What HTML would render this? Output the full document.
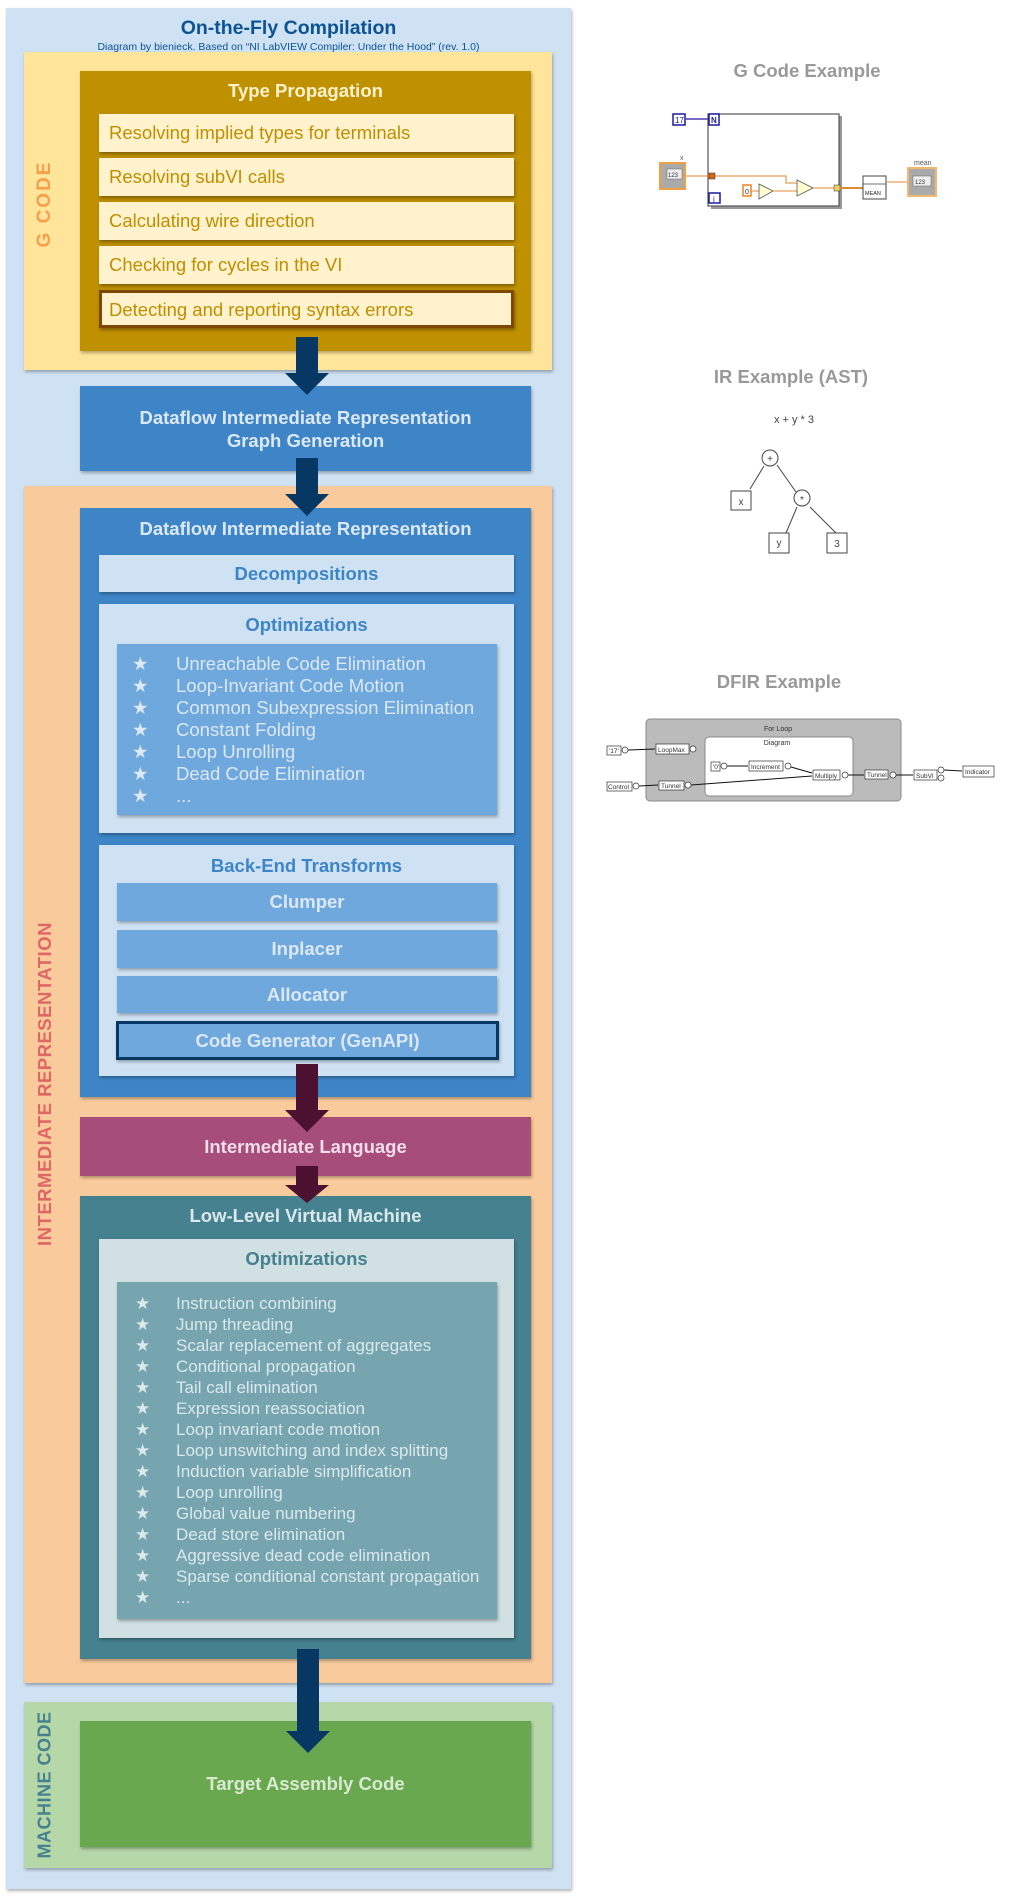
<!DOCTYPE html>
<html><head><meta charset="utf-8"><style>
*{margin:0;padding:0;box-sizing:border-box}
body{width:1023px;height:1897px;background:#fff;position:relative;font-family:"Liberation Sans",Arial,sans-serif;overflow:hidden}
.a{position:absolute}
.sh{box-shadow:1px 2px 3px rgba(0,0,0,.3)}
.c{display:flex;align-items:center;justify-content:center;text-align:center}
.vt{position:absolute;transform:translate(-50%,-50%) rotate(-90deg);white-space:nowrap;font-weight:bold;font-size:18px;letter-spacing:0.5px}
.item{position:absolute;left:99px;width:415px;height:38px;background:#fff2cc;color:#bf8f00;font-size:18.5px;line-height:38px;padding-left:10px;box-shadow:1px 2px 3px rgba(0,0,0,.35)}
.li{position:absolute;white-space:nowrap}
.li span{position:absolute}
.bx{left:80px;width:451px}
.in{left:99px;width:415px}
.ls{left:117px;width:380px}
.t{font-weight:bold;font-size:18.5px}
svg text{font-family:"Liberation Sans",Arial,sans-serif}
</style></head><body>

<div class="a sh" style="left:6px;top:8px;width:565px;height:1881px;background:#cfe2f3"></div>
<div class="a" style="left:6px;top:17px;width:565px;text-align:center;font-weight:bold;font-size:19.5px;color:#0b5394">On-the-Fly Compilation</div>
<div class="a" style="left:6px;top:41px;width:565px;text-align:center;font-size:10.5px;color:#0b5394">Diagram by bienieck. Based on “NI LabVIEW Compiler: Under the Hood” (rev. 1.0)</div>

<div class="a sh" style="left:24px;top:52px;width:528px;height:318px;background:#ffe599"></div>
<div class="vt" style="left:45px;top:204px;color:#f6a04d;font-size:19px;letter-spacing:2px">G CODE</div>
<div class="a sh bx" style="top:71px;height:280px;background:#bf9000"></div>
<div class="a bx t" style="top:80px;text-align:center;color:#fff2cc">Type Propagation</div>
<div class="item" style="top:114px">Resolving implied types for terminals</div>
<div class="item" style="top:158px">Resolving subVI calls</div>
<div class="item" style="top:202px">Calculating wire direction</div>
<div class="item" style="top:246px">Checking for cycles in the VI</div>
<div class="item" style="top:290px;border:3px solid #7f4700;line-height:33px;padding-left:7px">Detecting and reporting syntax errors</div>

<div class="a sh c bx t" style="top:386px;height:85px;background:#3d85c6;color:#dde8f5;line-height:23px">Dataflow Intermediate Representation<br>Graph Generation</div>

<div class="a sh" style="left:24px;top:486px;width:528px;height:1197px;background:#f9cb9c"></div>
<div class="vt" style="left:45px;top:1084px;color:#e06666;font-size:18.5px">INTERMEDIATE REPRESENTATION</div>

<div class="a sh bx" style="top:508px;height:589px;background:#3d85c6"></div>
<div class="a bx t" style="top:518px;text-align:center;color:#dde8f5">Dataflow Intermediate Representation</div>
<div class="a sh c in t" style="top:555px;height:37px;background:#cfe2f3;color:#3d85c6">Decompositions</div>
<div class="a sh in" style="top:604px;height:229px;background:#cfe2f3"></div>
<div class="a in t" style="top:614px;text-align:center;color:#3d85c6">Optimizations</div>
<div class="a sh ls" style="top:644px;height:171px;background:#6fa8dc"></div>
<div class="a" style="left:0;top:0;color:#dce8f5;font-size:18.5px">
<div class="li" style="top:653px"><span style="left:132px">★</span><span style="left:176px">Unreachable Code Elimination</span></div>
<div class="li" style="top:675px"><span style="left:132px">★</span><span style="left:176px">Loop-Invariant Code Motion</span></div>
<div class="li" style="top:697px"><span style="left:132px">★</span><span style="left:176px">Common Subexpression Elimination</span></div>
<div class="li" style="top:719px"><span style="left:132px">★</span><span style="left:176px">Constant Folding</span></div>
<div class="li" style="top:741px"><span style="left:132px">★</span><span style="left:176px">Loop Unrolling</span></div>
<div class="li" style="top:763px"><span style="left:132px">★</span><span style="left:176px">Dead Code Elimination</span></div>
<div class="li" style="top:785px"><span style="left:132px">★</span><span style="left:176px">...</span></div>
</div>

<div class="a sh in" style="top:845px;height:231px;background:#cfe2f3"></div>
<div class="a in t" style="top:855px;text-align:center;color:#3d85c6">Back-End Transforms</div>
<div class="a sh c ls t" style="top:883px;height:38px;background:#6fa8dc;color:#dce8f5">Clumper</div>
<div class="a sh c ls t" style="top:930px;height:38px;background:#6fa8dc;color:#dce8f5">Inplacer</div>
<div class="a sh c ls t" style="top:976px;height:37px;background:#6fa8dc;color:#dce8f5">Allocator</div>
<div class="a sh c t" style="left:116px;top:1021px;width:383px;height:39px;background:#6fa8dc;border:3px solid #073763;color:#dce8f5">Code Generator (GenAPI)</div>

<div class="a sh c bx t" style="top:1117px;height:59px;background:#a64d79;color:#f2dde8">Intermediate Language</div>

<div class="a sh bx" style="top:1196px;height:463px;background:#45818e"></div>
<div class="a bx t" style="top:1205px;text-align:center;color:#dbe9ec">Low-Level Virtual Machine</div>
<div class="a sh in" style="top:1239px;height:399px;background:#d0e0e3"></div>
<div class="a in t" style="top:1248px;text-align:center;color:#45818e">Optimizations</div>
<div class="a sh ls" style="top:1282px;height:337px;background:#76a5af"></div>
<div class="a" style="left:0;top:0;color:#dbe9ec;font-size:17px">
<div class="li" style="top:1294px"><span style="left:135px">★</span><span style="left:176px">Instruction combining</span></div>
<div class="li" style="top:1315px"><span style="left:135px">★</span><span style="left:176px">Jump threading</span></div>
<div class="li" style="top:1336px"><span style="left:135px">★</span><span style="left:176px">Scalar replacement of aggregates</span></div>
<div class="li" style="top:1357px"><span style="left:135px">★</span><span style="left:176px">Conditional propagation</span></div>
<div class="li" style="top:1378px"><span style="left:135px">★</span><span style="left:176px">Tail call elimination</span></div>
<div class="li" style="top:1399px"><span style="left:135px">★</span><span style="left:176px">Expression reassociation</span></div>
<div class="li" style="top:1420px"><span style="left:135px">★</span><span style="left:176px">Loop invariant code motion</span></div>
<div class="li" style="top:1441px"><span style="left:135px">★</span><span style="left:176px">Loop unswitching and index splitting</span></div>
<div class="li" style="top:1462px"><span style="left:135px">★</span><span style="left:176px">Induction variable simplification</span></div>
<div class="li" style="top:1483px"><span style="left:135px">★</span><span style="left:176px">Loop unrolling</span></div>
<div class="li" style="top:1504px"><span style="left:135px">★</span><span style="left:176px">Global value numbering</span></div>
<div class="li" style="top:1525px"><span style="left:135px">★</span><span style="left:176px">Dead store elimination</span></div>
<div class="li" style="top:1546px"><span style="left:135px">★</span><span style="left:176px">Aggressive dead code elimination</span></div>
<div class="li" style="top:1567px"><span style="left:135px">★</span><span style="left:176px">Sparse conditional constant propagation</span></div>
<div class="li" style="top:1588px"><span style="left:135px">★</span><span style="left:176px">...</span></div>
</div>

<div class="a sh" style="left:24px;top:1702px;width:528px;height:166px;background:#b6d7a8"></div>
<div class="vt" style="left:45px;top:1785px;color:#45818e">MACHINE CODE</div>
<div class="a sh c bx t" style="top:1721px;height:126px;background:#6aa84f;color:#d9ead3">Target Assembly Code</div>

<svg class="a" style="left:0;top:0" width="1023" height="1897">
<polygon points="296,337 318,337 318,373 329,373 307,395 285,373 296,373" fill="#073763"/>
<polygon points="296,458 318,458 318,494 329,494 307,516 285,494 296,494" fill="#073763"/>
<polygon points="296,1064 318,1064 318,1110 329,1110 307,1132 285,1110 296,1110" fill="#4c1130"/>
<polygon points="296,1166 318,1166 318,1185 329,1185 307,1203 285,1185 296,1185" fill="#4c1130"/>
<polygon points="297,1649 319,1649 319,1731 330,1731 308,1753 286,1731 297,1731" fill="#073763"/>
</svg>

<div class="a" style="left:652px;top:60px;width:310px;text-align:center;font-weight:bold;font-size:18.5px;color:#999">G Code Example</div>
<div class="a" style="left:636px;top:366px;width:310px;text-align:center;font-weight:bold;font-size:18.5px;color:#999">IR Example (AST)</div>
<div class="a" style="left:624px;top:671px;width:310px;text-align:center;font-weight:bold;font-size:18.5px;color:#999">DFIR Example</div>

<svg class="a" style="left:0;top:0" width="1023" height="1897">
<rect x="711" y="116" width="131" height="93" fill="#999"/>
<rect x="708" y="114" width="131" height="92" fill="#fff" stroke="#555" stroke-width="1.2"/>
<line x1="686" y1="119" x2="709" y2="119" stroke="#4a3fb0" stroke-width="1.5"/>
<rect x="673" y="114" width="12" height="11" fill="#fff" stroke="#1a1aa0" stroke-width="1.5"/>
<text x="675" y="123" font-size="8" fill="#1a1aa0">17</text>
<rect x="709" y="114" width="10" height="11" fill="#fff" stroke="#1a1aa0" stroke-width="1.5"/>
<text x="711" y="123" font-size="8" font-weight="bold" fill="#1a1aa0">N</text>
<rect x="709" y="193" width="11" height="10" fill="#fff" stroke="#1a1aa0" stroke-width="1.5"/>
<text x="713" y="202" font-size="8" fill="#1a1aa0">i</text>
<text x="680" y="160" font-size="7" fill="#555">x</text>
<rect x="660" y="163" width="25" height="26" fill="#aaa" stroke="#f0a040" stroke-width="2"/>
<rect x="667" y="169" width="15" height="10" fill="#eee" stroke="#666" stroke-width=".5"/>
<text x="668" y="177" font-size="6" fill="#333">123</text>
<polyline points="686,176 786,176 786,183 797,183" fill="none" stroke="#e08a30" stroke-width="1"/>
<rect x="709" y="173" width="6" height="6" fill="#e06010" stroke="#333" stroke-width=".5"/>
<rect x="743" y="185" width="8" height="11" fill="#fff" stroke="#f08020" stroke-width="1.5"/>
<text x="745" y="194" font-size="7" fill="#333">0</text>
<line x1="751" y1="191" x2="759" y2="191" stroke="#e08a30"/>
<polygon points="759,184 773,191 759,199" fill="#ffffd0" stroke="#555" stroke-width=".8"/>
<line x1="773" y1="191" x2="797" y2="191" stroke="#e08a30"/>
<polygon points="797,180 813,188 797,196" fill="#ffffd0" stroke="#555" stroke-width=".8"/>
<line x1="813" y1="188" x2="834" y2="188" stroke="#e08a30"/>
<rect x="834" y="185" width="6" height="6" fill="#f0d060" stroke="#333" stroke-width=".5"/>
<line x1="840" y1="188" x2="863" y2="188" stroke="#e08a30" stroke-width="2"/>
<rect x="863" y="176" width="23" height="23" fill="#fff" stroke="#444" stroke-width="1"/>
<line x1="863" y1="184" x2="886" y2="184" stroke="#444" stroke-width=".8"/>
<text x="865" y="195" font-size="5.5" fill="#222">MEAN</text>
<line x1="886" y1="182" x2="908" y2="182" stroke="#e08a30"/>
<text x="914" y="165" font-size="7" fill="#555">mean</text>
<rect x="908" y="168" width="28" height="28" fill="#aaa" stroke="#f0b870" stroke-width="2"/>
<rect x="913" y="176" width="18" height="10" fill="#eee" stroke="#666" stroke-width=".5"/>
<text x="915" y="184" font-size="6" fill="#333">123</text>
</svg>

<svg class="a" style="left:0;top:0" width="1023" height="1897">
<text x="794" y="423" font-size="11" fill="#444" text-anchor="middle">x + y * 3</text>
<g stroke="#444" stroke-width="1" fill="#fff">
<line x1="764" y1="466" x2="750" y2="489"/>
<line x1="777" y1="465" x2="796" y2="492"/>
<line x1="797" y1="507" x2="786" y2="533"/>
<line x1="810" y1="507" x2="836" y2="533"/>
<circle cx="770" cy="458" r="8"/>
<circle cx="802" cy="498" r="8"/>
<rect x="731" y="491" width="20" height="19"/>
<rect x="769" y="533" width="20" height="20"/>
<rect x="827" y="533" width="20" height="20"/>
</g>
<g font-size="10" fill="#444" text-anchor="middle">
<text x="770" y="462">+</text><text x="802" y="503">*</text>
<text x="741" y="505">x</text><text x="779" y="546">y</text><text x="837" y="547">3</text>
</g>
</svg>

<svg class="a" style="left:0;top:0" width="1023" height="1897">
<rect x="646" y="719" width="255" height="82" rx="4" fill="#bbb" stroke="#888"/>
<rect x="705" y="737" width="148" height="59" rx="4" fill="#fff" stroke="#888"/>
<g font-size="7" fill="#333" text-anchor="middle">
<text x="778" y="731">For Loop</text><text x="777" y="745">Diagram</text>
</g>
<g stroke="#333" stroke-width=".7" fill="#fff">
<rect x="607" y="746" width="14" height="9"/>
<rect x="656" y="744" width="33" height="10"/>
<rect x="607" y="782" width="25" height="9"/>
<rect x="659" y="781" width="25" height="9"/>
<rect x="711" y="762" width="9" height="9"/>
<rect x="749" y="761" width="34" height="10"/>
<rect x="813" y="770" width="27" height="10"/>
<rect x="865" y="770" width="23" height="9"/>
<rect x="914" y="770" width="23" height="10"/>
<rect x="963" y="766" width="31" height="11"/>
<circle cx="625" cy="750" r="3"/><circle cx="693" cy="749" r="3"/>
<circle cx="636" cy="786" r="3"/><circle cx="688" cy="785" r="3"/>
<circle cx="724" cy="766" r="3"/><circle cx="788" cy="766" r="3"/>
<circle cx="845" cy="775" r="3"/><circle cx="893" cy="775" r="3"/>
<circle cx="941" cy="770" r="3"/><circle cx="941" cy="778" r="3"/>
</g>
<g stroke="#111" stroke-width="1" fill="none">
<line x1="628" y1="750" x2="655" y2="749"/>
<line x1="639" y1="786" x2="658" y2="785"/>
<line x1="727" y1="766" x2="748" y2="766"/>
<line x1="791" y1="767" x2="812" y2="773"/>
<line x1="691" y1="785" x2="812" y2="776"/>
<line x1="848" y1="775" x2="864" y2="775"/>
<line x1="896" y1="775" x2="913" y2="775"/>
<line x1="944" y1="770" x2="962" y2="771"/>
</g>
<g font-size="6.5" fill="#333">
<text x="609" y="753">'17'</text><text x="658" y="752">LoopMax</text>
<text x="608" y="789">Control</text><text x="661" y="788">Tunnel</text>
<text x="713" y="769">'0'</text><text x="751" y="769">Increment</text>
<text x="815" y="778">Multiply</text><text x="867" y="777">Tunnel</text>
<text x="916" y="778">SubVI</text><text x="965" y="774">Indicator</text>
</g>
</svg>
</body></html>
